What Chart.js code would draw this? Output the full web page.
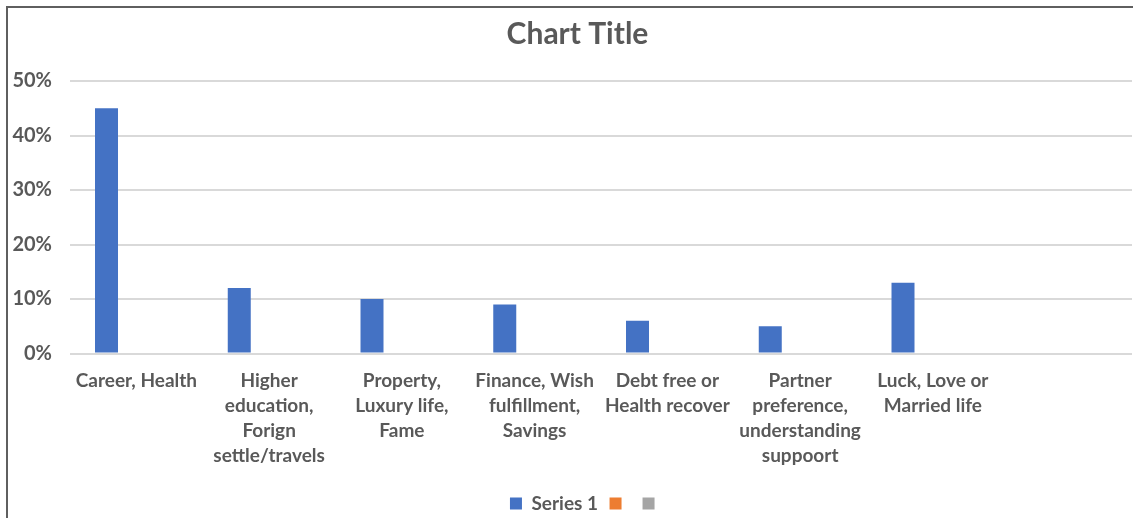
<!DOCTYPE html>
<html>
<head>
<meta charset="utf-8">
<script src="https://cdn.jsdelivr.net/npm/chart.js@4.4.1/dist/chart.umd.min.js"></script>
<style>
  html, body { margin: 0; padding: 0; background: #ffffff; }
  #wrap { position: relative; width: 1133px; height: 518px; overflow: hidden; }
  #frame { position: absolute; left: 6px; top: 6px; right: -4px; bottom: -4px;
           border-left: 2px solid #5f5f5f; border-top: 2px solid #5f5f5f; pointer-events: none; }
  canvas { position: absolute; left: 0; top: 0; }
</style>
</head>
<body>
<div id="wrap">
  <canvas id="c" width="1133" height="518"></canvas>
  <div id="frame"></div>
</div>
<script>
const categories = [
  "Career, Health",
  ["Higher", "education,", "Forign", "settle/travels"],
  ["Property,", "Luxury life,", "Fame"],
  ["Finance, Wish", "fulfillment,", "Savings"],
  ["Debt free or", "Health recover"],
  ["Partner", "preference,", "understanding", "suppoort"],
  ["Luck, Love or", "Married life"],
  ""
];
const series1 = [45, 12, 10, 9, 6, 5, 13, null];
const series2 = [null, null, null, null, null, null, null, null];
const series3 = [null, null, null, null, null, null, null, null];
const yTickMax = 50;
const yTickStep = 10;

const FONT = "Lato, 'Open Sans', sans-serif";
const GREY = "#595959";

// Shift the title and legend boxes so they are centred like the original (Excel) layout
const boxShift = {
  id: "boxShift",
  afterLayout(chart) {
    if (chart.titleBlock) { chart.titleBlock.left = 23; }
    if (chart.legend) { chart.legend.left = 42; }
  }
};

new Chart(document.getElementById("c"), {
  type: "bar",
  data: {
    labels: categories,
    datasets: [
      { label: "Series 1", data: series1, backgroundColor: "#4472C4" },
      { label: "", data: series2, backgroundColor: "#ED7D31" },
      { label: "", data: series3, backgroundColor: "#A5A5A5" }
    ]
  },
  plugins: [boxShift],
  options: {
    responsive: false,
    animation: false,
    devicePixelRatio: 1,
    categoryPercentage: 0.675,
    barPercentage: 0.77,
    layout: { padding: { left: 0, right: 1, top: 0, bottom: -5 } },
    plugins: {
      title: {
        display: true,
        text: "Chart Title",
        color: GREY,
        font: { family: FONT, size: 30, weight: "bold", lineHeight: 1.2 },
        padding: { top: 16, bottom: 29 }
      },
      legend: {
        display: true,
        position: "bottom",
        labels: {
          color: GREY,
          font: { family: FONT, size: 19, weight: "bold" },
          boxWidth: 12,
          boxHeight: 12,
          padding: 11.5
        }
      },
      tooltip: { enabled: false }
    },
    scales: {
      x: {
        grid: { display: false },
        border: { display: false },
        afterFit: function (scale) { scale.height = 129; },
        ticks: {
          color: GREY,
          font: { family: FONT, size: 19, weight: "bold", lineHeight: 25 / 19 },
          padding: 7,
          maxRotation: 0,
          minRotation: 0,
          autoSkip: false
        }
      },
      y: {
        min: 0,
        max: yTickMax,
        afterFit: function (scale) { scale.width = 70; },
        grid: { color: "#d9d9d9", lineWidth: 2, drawTicks: false },
        border: { display: false },
        ticks: {
          stepSize: yTickStep,
          color: GREY,
          font: { family: FONT, size: 20, weight: "bold" },
          padding: 18,
          callback: function (v) { return v + "%"; }
        }
      }
    }
  }
});
</script>
</body>
</html>
